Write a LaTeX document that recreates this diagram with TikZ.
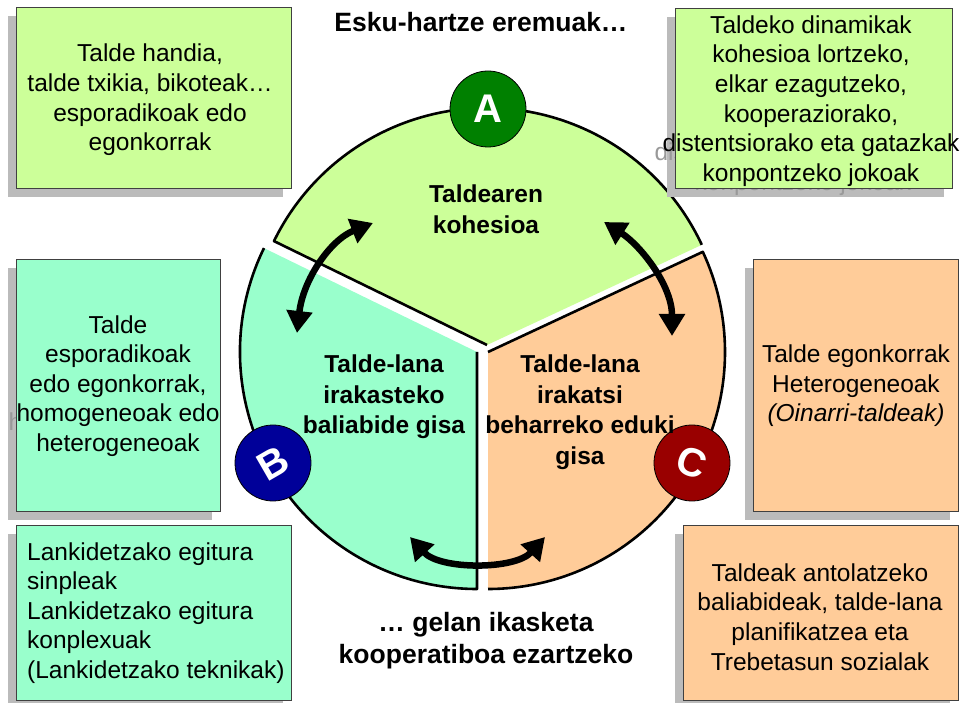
\documentclass[tikz,border=0pt]{standalone}
\usepackage{fontspec}
\setmainfont{Liberation Sans}
\usetikzlibrary{arrows.meta,calc}
\definecolor{gfill}{HTML}{CCFF99}
\definecolor{tfill}{HTML}{99FFCC}
\definecolor{pfill}{HTML}{FFCC99}
\definecolor{shgray}{HTML}{BBBBBB}
\definecolor{ghgray}{HTML}{999999}
\definecolor{agreen}{HTML}{008000}
\definecolor{bblue}{HTML}{000099}
\definecolor{cred}{HTML}{990000}
\newcommand\boxfont{\fontsize{24.5}{29.6}\selectfont}
\newcommand\labfont{\fontsize{24.5}{30.5}\selectfont\bfseries}
\newcommand\titfont{\fontsize{26.5}{32}\selectfont\bfseries}
\newcommand\letfont{\fontsize{40}{40}\selectfont\bfseries}
\tikzset{
  shadowrect/.style={rectangle, fill=shgray, inner sep=0pt},
  panelrect/.style={rectangle, draw=black!75, line width=0.8pt, inner sep=0pt},
  paneltext/.style={inner sep=0pt, font=\boxfont, align=center},
  ghosttext/.style={paneltext, text=ghgray},
  sectorline/.style={draw=black, line width=2.6pt, line join=round},
  seclabel/.style={inner sep=0pt, font=\labfont, align=center},
  titlelabel/.style={inner sep=0pt, font=\titfont, align=center},
  lettercirc/.style={circle, minimum size=76pt, inner sep=0pt, draw=black, line width=0.8pt, text=white, font=\letfont},
  bigarrow/.style={line width=6.5pt, {Triangle[length=22pt,width=25pt]}-{Triangle[length=22pt,width=25pt]}},
}
% #1 name, #2 x, #3 y, #4 w, #5 h, #6 fill
\newcommand\panelshadow[5]{%
  \node[shadowrect, minimum width=#4pt, minimum height=#5pt] (#1-shadow) at ($(#2,#3)+(-8,-9)$) {};
}
\newcommand\panelbox[6]{%
  \node[panelrect, fill=#6, minimum width=#4pt, minimum height=#5pt] (#1) at (#2,#3) {};
}
\begin{document}
\begin{tikzpicture}[x=1pt,y=1pt]
\useasboundingbox (0,0) rectangle (966,702);
\fill[white] (0,0) rectangle (966,702);

% pie sectors
\coordinate (Gapex) at (487,357);
\coordinate (Bapex) at (477,350);
\coordinate (Capex) at (488,350);
\fill[gfill] (Gapex) -- ++(25:237) arc[start angle=25, end angle=154, radius=237] -- cycle;
\draw[sectorline] (Gapex) ++(25:237) arc[start angle=25, end angle=154, radius=237] -- (Gapex);
\fill[tfill] (Bapex) -- ++(154:237) arc[start angle=154, end angle=270, radius=237] -- cycle;
\draw[sectorline] (Bapex) ++(154:237) arc[start angle=154, end angle=270, radius=237] -- (Bapex);
\fill[pfill] (Capex) -- ++(270:237) arc[start angle=270, end angle=385, radius=237] -- cycle;
\draw[sectorline] (Capex) ++(270:237) arc[start angle=270, end angle=385, radius=237] -- (Capex);

% panel shadows
\panelshadow{p1}{153.5}{604.5}{275}{181}
\panelshadow{p2}{813.5}{604}{277}{180}
\panelshadow{p3}{118}{317}{204}{252}
\panelshadow{p4}{855.5}{317}{205}{252}
\panelshadow{p5}{153.5}{89.5}{275}{175}
\panelshadow{p6}{820.5}{89.5}{275}{175}

% shadow texts that stick out of their boxes
\node[ghosttext] (p2-ghost) at (803,592) {\phantom{Taldeko dinamikak}\\\phantom{kohesioa lortzeko,}\\\phantom{elkar ezagutzeko,}\\\phantom{kooperaziorako,}\\distentsiorako eta gatazkak\\konpontzeko jokoak};
\node[ghosttext] (p3-ghost) at (110,307) {\phantom{Talde}\\\phantom{esporadikoak}\\\phantom{edo egonkorrak,}\\homogeneoak edo\\\phantom{heterogeneoak}};
\node[ghosttext] (p4-ghost) at (848,307) {Talde egonkorrak\\\phantom{Heterogeneoak}\\\phantom{\textit{(Oinarri-taldeak)}}};

% panels
\panelbox{p1}{153.5}{604.5}{275}{181}{gfill}
\panelbox{p2}{813.5}{604}{277}{180}{gfill}
\panelbox{p3}{118}{317}{204}{252}{tfill}
\panelbox{p4}{855.5}{317}{205}{252}{pfill}
\panelbox{p5}{153.5}{89.5}{275}{175}{tfill}
\panelbox{p6}{820.5}{89.5}{275}{175}{pfill}

\node[paneltext] (p1-text) at (150,602) {Talde handia,\\talde txikia, bikoteak…\\esporadikoak edo\\egonkorrak};
\node[paneltext] (p2-text) at (811,601) {Taldeko dinamikak\\kohesioa lortzeko,\\elkar ezagutzeko,\\kooperaziorako,\\distentsiorako eta gatazkak\\konpontzeko jokoak};
\node[paneltext] (p3-text) at (118,316) {Talde\\esporadikoak\\edo egonkorrak,\\homogeneoak edo\\heterogeneoak};
\node[paneltext] (p4-text) at (856,316) {Talde egonkorrak\\Heterogeneoak\\\textit{(Oinarri-taldeak)}};
\node[paneltext, align=left, anchor=west] (p5-text) at (27,89) {Lankidetzako egitura\\sinpleak\\Lankidetzako egitura\\konplexuak\\(Lankidetzako teknikak)};
\node[paneltext] (p6-text) at (820,85) {Taldeak antolatzeko\\baliabideak, talde-lana\\planifikatzea eta\\Trebetasun sozialak};

% arrows
\coordinate (a1s) at (297,369);
\coordinate (a1e) at (373,479);
\draw[bigarrow] (a1s) .. controls (303,422) and (330,462) .. (a1e);
\coordinate (a2s) at (604,480);
\coordinate (a2e) at (672,366);
\draw[bigarrow] (a2s) .. controls (640,457) and (672,417) .. (a2e);
\coordinate (a3s) at (410,165);
\coordinate (a3e) at (545,165);
\draw[bigarrow] (a3s) .. controls (440,132) and (515,132) .. (a3e);

% letter circles
\node[lettercirc, fill=agreen] (A) at (488,593) {A};
\node[lettercirc, fill=bblue, rotate=30] (B) at (273,239) {B};
\node[lettercirc, fill=cred, rotate=-20] (C) at (692,239) {C};

% sector labels
\node[seclabel] (Glab) at (486,493) {Taldearen\\kohesioa};
\node[seclabel] (Blab) at (384,305) {Talde-lana\\irakasteko\\baliabide gisa};
\node[seclabel] (Clab) at (580,290) {Talde-lana\\irakatsi\\beharreko eduki\\gisa};

% titles
\node[titlelabel] (toptitle) at (481,680) {Esku-hartze eremuak…};
\node[titlelabel] (bottitle) at (486,61) {… gelan ikasketa\\kooperatiboa ezartzeko};
\end{tikzpicture}
\end{document}
